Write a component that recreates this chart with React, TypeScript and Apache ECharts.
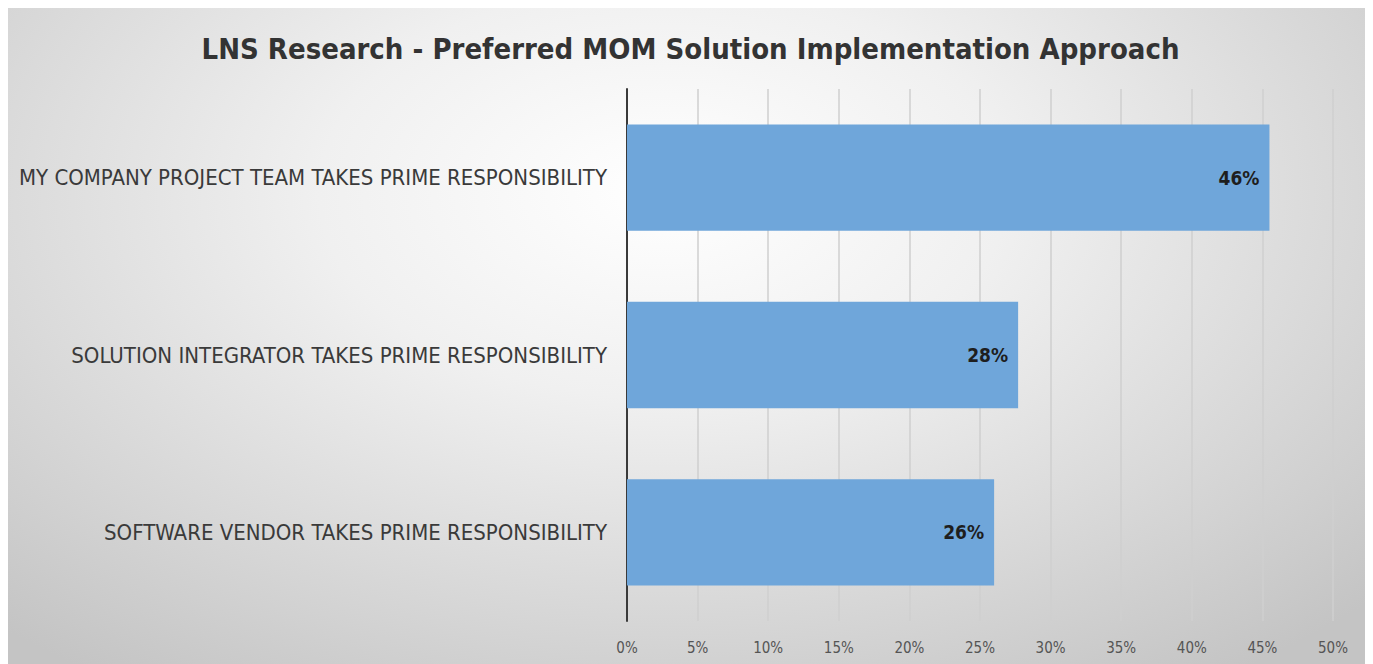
import React, { useEffect, useRef } from "react";
import * as echarts from "echarts";

const titleText = "LNS Research - Preferred MOM Solution Implementation Approach";
const categories = [
  "MY COMPANY PROJECT TEAM TAKES PRIME RESPONSIBILITY",
  "SOLUTION INTEGRATOR TAKES PRIME RESPONSIBILITY",
  "SOFTWARE VENDOR TAKES PRIME RESPONSIBILITY",
];
const values = [45.5, 27.7, 26.0];
const axisMin = 0;
const axisMax = 50;
const axisStep = 5;

const FONT = "'DejaVu Sans Condensed', 'Liberation Sans', sans-serif";

export default function App() {
  const ref = useRef<HTMLDivElement>(null);
  useEffect(() => {
    document.body.style.overflow = "hidden";
    const chart = echarts.init(ref.current!, null, { renderer: "svg" });
    chart.setOption({
      animation: false,
      backgroundColor: "transparent",
      title: {
        text: titleText,
        left: "center",
        top: 21,
        textStyle: { fontFamily: FONT, fontSize: 29, fontWeight: "bold", color: "#333333" },
      },
      grid: { left: 619, right: 40, top: 81, bottom: 43, containLabel: false },
      xAxis: {
        type: "value",
        min: axisMin,
        max: axisMax,
        interval: axisStep,
        axisLine: { show: false },
        axisTick: { show: false },
        splitLine: { show: true, lineStyle: { color: "#cfcfcf", width: 1.5 } },
        axisLabel: {
          formatter: "{value}%",
          margin: 19,
          fontFamily: FONT,
          fontSize: 15,
          color: "#555555",
        },
      },
      yAxis: {
        type: "category",
        data: categories,
        inverse: true,
        axisLine: { show: true, lineStyle: { color: "#3a3a3a", width: 2 } },
        axisTick: { show: false },
        axisLabel: {
          margin: 20,
          fontFamily: FONT,
          fontSize: 22,
          color: "#3a3a3a",
        },
      },
      series: [
        {
          type: "bar",
          data: values,
          barCategoryGap: "40%",
          itemStyle: { color: "#6fa6da" },
          label: {
            show: true,
            position: "insideRight",
            distance: 10,
            formatter: (p: any) => Math.round(p.value) + "%",
            fontFamily: FONT,
            fontSize: 19,
            fontWeight: "bold",
            color: "#1e1e1e",
          },
        },
      ],
    });
    return () => chart.dispose();
  }, []);
  return (
    <div
      ref={ref}
      style={{
        width: 1365,
        height: 656,
        background: "radial-gradient(ellipse 72% 90% at 48% 28%, #ffffff 0%, #f0f0f0 35%, #c4c4c4 100%)",
      }}
    />
  );
}
